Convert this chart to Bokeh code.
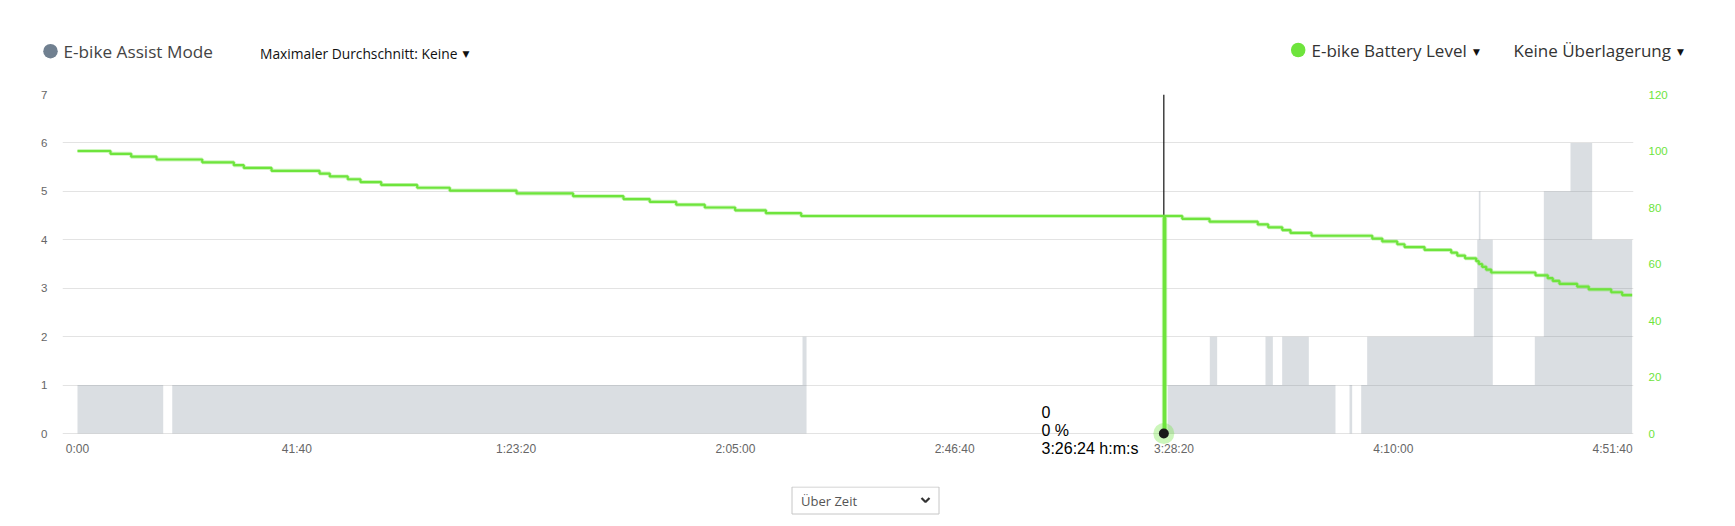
from bokeh.plotting import figure
from bokeh.layouts import column
from bokeh.models import Range1d, LinearAxis, FixedTicker, Label
from bokeh.embed import file_html
from bokeh.resources import INLINE

# ---------------- data ----------------
x_tick_seconds = [0, 2500, 5000, 7500, 10000, 12500, 15000, 17500]
x_tick_labels = ["0:00", "41:40", "1:23:20", "2:05:00", "2:46:40", "3:28:20", "4:10:00", "4:51:40"]

# assist mode: each value holds from its start second until the next start
assist_start = [0, 977, 1080, 8265, 8311, 12430, 12908, 12992, 13543, 13627, 13733, 14037,
                14341, 14501, 14531, 14634, 14702, 15918, 15957, 15975, 15994, 16134, 16613,
                16716, 17020, 17267, 17723]
assist_mode = [1, 0, 1, 2, 0, 1, 2, 1, 2, 1, 2, 1,
               0, 1, 0, 1, 2, 3, 4, 5, 4, 1, 2,
               5, 6, 4, 4]

# battery level (%): each value holds from its start second
battery_start = [0, 376, 612, 901, 1422, 1782, 1896, 2212, 2759, 2876, 3081, 3226, 3462, 3873,
                 4244, 5005, 5650, 6224, 6523, 6825, 7151, 7497, 7848, 8250,
                 12384, 12400,
                 12594, 12905, 13455, 13574, 13734, 13828, 14068, 14760, 14874, 15045, 15128,
                 15356, 15660, 15729, 15818, 15945, 15975, 16013, 16059, 16116, 16621, 16761,
                 16818, 16894, 17096, 17228, 17484, 17609, 17723]
battery_pct = [100, 99, 98, 97, 96, 95, 94, 93, 92, 91, 90, 89, 88, 87,
               86, 85, 84, 83, 82, 81, 80, 79, 78, 77,
               0, 77,
               76, 75, 74, 73, 72, 71, 70, 69, 68, 67, 66,
               65, 64, 63, 62, 61, 60, 59, 58, 57, 56, 55,
               54, 53, 52, 51, 50, 49, 49]

hover_index = 24
hover_assist = 0
hover_time_label = "3:26:24 h:m:s"

# ---------------- layout ----------------
W = 1719
HEADER_H = 86
MAIN_H = 400
FOOTER_H = 32
LEFT, RIGHT, TOP, BOTTOM = 62, 86, 8, 30
X_START = -171
Y_MAX = 7
PX_PER_UNIT = 339 / 7
FRAME_H = MAIN_H - TOP - BOTTOM
Y_MIN = -(FRAME_H - 339) / PX_PER_UNIT
PX_PER_S = 219.3 / 2500
FRAME_W = W - LEFT - RIGHT
X_END = X_START + FRAME_W / PX_PER_S
BATT_MAX = 120

GRAY_AXIS = "#666666"
GREEN = "#6ee43c"
SLATE = "#708090"

def tx(xpage):
    return X_START + (xpage - LEFT) / PX_PER_S
def dy(ypage):
    return (HEADER_H + TOP + 339 - ypage) / PX_PER_UNIT

# ---------------- header ----------------
hdr = figure(width=W, height=HEADER_H, x_range=Range1d(0, W), y_range=Range1d(HEADER_H, 0),
             output_backend="svg", toolbar_location=None, tools="",
             x_axis_location=None, y_axis_location=None,
             min_border_left=0, min_border_right=0, min_border_top=0, min_border_bottom=0,
             outline_line_color=None)
hdr.grid.visible = False

def htext(x, y, txt, size, color, font="Open Sans", align="left"):
    hdr.add_layout(Label(x=x, y=y, text=txt, text_font=font, text_font_size=size,
                         text_color=color, text_baseline="middle", text_align=align))

hdr.scatter([50], [50.7], size=14.5, fill_color=SLATE, line_color=None)
htext(63, 51, "E-bike Assist Mode", "17.2px", "#444444")
htext(259.5, 52.5, "Maximaler Durchschnitt: Keine", "13.8px", "#111111")
htext(465.5, 53.5, "▼", "9px", "#111111", font="DejaVu Sans", align="center")
hdr.scatter([1297.7], [49.5], size=14.5, fill_color=GREEN, line_color=None)
htext(1311, 50, "E-bike Battery Level", "17px", "#333333")
htext(1476, 51, "▼", "9px", "#111111", font="DejaVu Sans", align="center")
htext(1513, 50, "Keine Überlagerung", "17px", "#333333")
htext(1680, 51, "▼", "9px", "#111111", font="DejaVu Sans", align="center")

# ---------------- main ----------------
p = figure(width=W, height=MAIN_H,
           min_border_left=LEFT, min_border_top=TOP, min_border_right=RIGHT, min_border_bottom=BOTTOM,
           x_range=Range1d(X_START, X_END), y_range=Range1d(Y_MIN, Y_MAX),
           output_backend="svg", toolbar_location=None, tools="")
p.outline_line_color = None
p.extra_y_ranges = {"batt": Range1d(Y_MIN * BATT_MAX / Y_MAX, BATT_MAX)}

p.xaxis.fixed_location = 0
p.xaxis.ticker = FixedTicker(ticks=x_tick_seconds)
p.xaxis.major_label_overrides = {t: l for t, l in zip(x_tick_seconds, x_tick_labels)}
p.xaxis.axis_line_color = None
p.xaxis.major_tick_line_color = None
p.xaxis.major_tick_out = 0
p.xaxis.major_tick_in = 0
p.xaxis.minor_tick_line_color = None
p.xaxis.major_label_standoff = 8
p.xaxis.major_label_text_font = "Liberation Sans"
p.xaxis.major_label_text_font_size = "12px"
p.xaxis.major_label_text_color = GRAY_AXIS

p.yaxis.ticker = FixedTicker(ticks=list(range(0, Y_MAX + 1)))
p.yaxis.axis_line_color = None
p.yaxis.major_tick_line_color = None
p.yaxis.major_tick_out = 0
p.yaxis.major_tick_in = 0
p.yaxis.minor_tick_line_color = None
p.yaxis.major_label_standoff = 15
p.yaxis.major_label_text_font = "Liberation Sans"
p.yaxis.major_label_text_font_size = "11.5px"
p.yaxis.major_label_text_color = GRAY_AXIS

raxis = LinearAxis(y_range_name="batt", ticker=FixedTicker(ticks=list(range(0, BATT_MAX + 1, 20))))
raxis.axis_line_color = None
raxis.major_tick_line_color = None
raxis.major_tick_out = 0
raxis.major_tick_in = 0
raxis.minor_tick_line_color = None
raxis.major_label_standoff = 15
raxis.major_label_text_font = "Liberation Sans"
raxis.major_label_text_font_size = "11.5px"
raxis.major_label_text_color = GREEN
p.add_layout(raxis, "right")

p.xgrid.grid_line_color = None
p.ygrid.grid_line_color = "#e3e3e3"

# assist mode area (step)
ax = [assist_start[0]]
ay = [0]
for i in range(len(assist_start) - 1):
    ax += [assist_start[i], assist_start[i + 1]]
    ay += [assist_mode[i], assist_mode[i]]
ax.append(assist_start[-1])
ay.append(0)
p.patch(ax, ay, fill_color=SLATE, fill_alpha=0.26, line_color=None)

# cursor line
ht = battery_start[hover_index]
p.segment(x0=[ht], y0=[0], x1=[ht], y1=[Y_MAX], line_color="#111111", line_width=1.2)

# battery step line (soft halo + core)
p.step(battery_start, battery_pct, mode="after", y_range_name="batt",
       line_color=GREEN, line_alpha=0.35, line_width=4)
p.step(battery_start, battery_pct, mode="after", y_range_name="batt",
       line_color=GREEN, line_width=2.2)

# hover marker
p.scatter([ht], [battery_pct[hover_index]], y_range_name="batt",
          size=21, fill_color=GREEN, fill_alpha=0.35, line_color=None)
p.scatter([ht], [battery_pct[hover_index]], y_range_name="batt",
          size=10, fill_color="#1a1a1a", line_color=None)

# tooltip text
tip_lines = [str(hover_assist), f"{battery_pct[hover_index]} %", hover_time_label]
for k, txt in enumerate(tip_lines):
    p.add_layout(Label(x=tx(1041), y=dy(411.5 + 18 * k), text=txt, text_font="Liberation Sans",
                       text_font_size="16px", text_color="#000000", text_baseline="middle",
                       text_align="left"))

# ---------------- footer ----------------
y0 = HEADER_H + MAIN_H
ftr = figure(width=W, height=FOOTER_H, x_range=Range1d(0, W), y_range=Range1d(y0 + FOOTER_H, y0),
             output_backend="svg", toolbar_location=None, tools="",
             x_axis_location=None, y_axis_location=None,
             min_border_left=0, min_border_right=0, min_border_top=0, min_border_bottom=0,
             outline_line_color=None)
ftr.grid.visible = False
ftr.quad(left=[791.5], right=[938.5], top=[486.5], bottom=[513.5],
         fill_color="white", line_color="#c6c6c6", line_width=1)
ftr.add_layout(Label(x=800.5, y=500, text="Über Zeit", text_font="Open Sans",
                     text_font_size="13px", text_color="#555555", text_baseline="middle",
                     text_align="left"))
ftr.line([921, 925, 929], [497.5, 501.5, 497.5], line_color="#333333", line_width=2.2)

layout = column(column(hdr), p, column(ftr), spacing=0)
open("out.html", "w").write(file_html(layout, INLINE))
